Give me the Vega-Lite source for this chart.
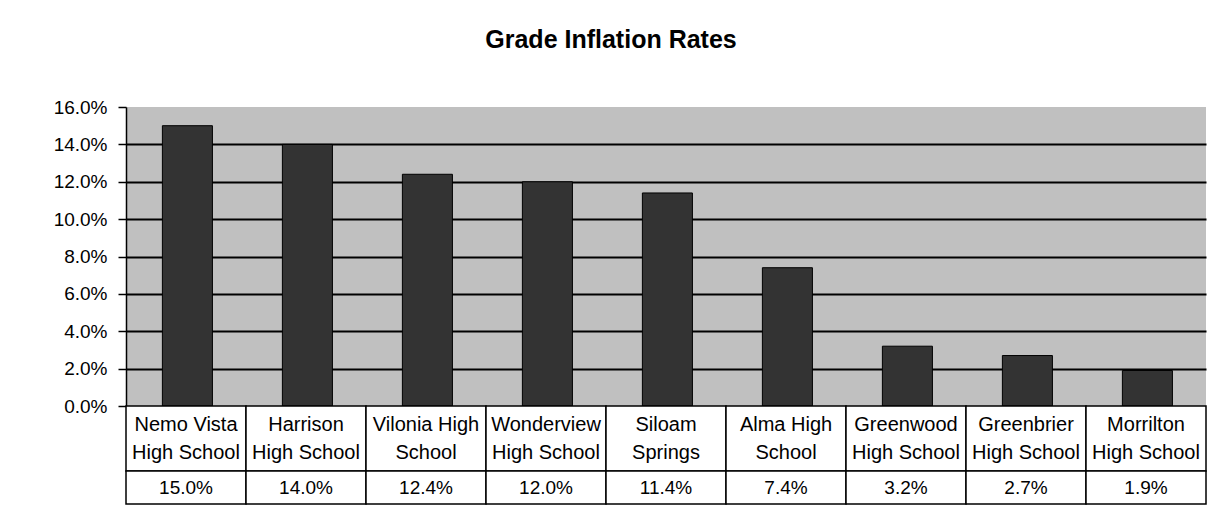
{
  "$schema": "https://vega.github.io/schema/vega-lite/v6.json",
  "background": "white",
  "padding": {"left": 53, "top": 28, "right": 5, "bottom": 5},
  "bounds": "flush",
  "config": {
    "font": "Liberation Sans",
    "concat": {"spacing": 0}
  },
  "data": {
    "values": [
      {"school": "Nemo Vista\nHigh School", "rate": 0.150},
      {"school": "Harrison\nHigh School", "rate": 0.140},
      {"school": "Vilonia High\nSchool", "rate": 0.124},
      {"school": "Wonderview\nHigh School", "rate": 0.120},
      {"school": "Siloam\nSprings", "rate": 0.114},
      {"school": "Alma High\nSchool", "rate": 0.074},
      {"school": "Greenwood\nHigh School", "rate": 0.032},
      {"school": "Greenbrier\nHigh School", "rate": 0.027},
      {"school": "Morrilton\nHigh School", "rate": 0.019}
    ]
  },
  "spacing": 0,
  "resolve": {"scale": {"x": "independent"}},
  "vconcat": [
    {
      "width": 1080,
      "height": 299,
      "title": {
        "text": "Grade Inflation Rates",
        "fontSize": 25,
        "fontWeight": "bold",
        "font": "Liberation Sans",
        "color": "black",
        "anchor": "middle",
        "dx": -55,
        "offset": 45
      },
      "view": {"fill": "#C0C0C0", "stroke": null},
      "mark": {"type": "bar", "color": "#333333", "stroke": "black", "strokeWidth": 1},
      "encoding": {
        "x": {
          "field": "school",
          "type": "nominal",
          "sort": null,
          "axis": null,
          "scale": {"paddingInner": 0.583, "paddingOuter": 0.2915, "align": 0.52}
        },
        "y": {
          "field": "rate",
          "type": "quantitative",
          "scale": {"domain": [0, 0.16], "nice": false},
          "axis": {
            "title": null,
            "values": [0, 0.02, 0.04, 0.06, 0.08, 0.1, 0.12, 0.14, 0.16],
            "format": ".1%",
            "labelFontSize": 19,
            "labelColor": "black",
            "labelPadding": 11,
            "tickSize": 8,
            "tickColor": "black",
            "tickWidth": 1.5,
            "domainColor": "black",
            "domainWidth": 1.5,
            "grid": true,
            "gridColor": {"condition": {"test": "datum.value >= 0.16 || datum.value <= 0", "value": "transparent"}, "value": "black"},
            "gridWidth": 1.8,
            "gridOpacity": 1
          }
        }
      }
    },
    {
      "width": 1080,
      "height": 65,
      "view": {"stroke": null},
      "encoding": {
        "x": {"field": "school", "type": "nominal", "sort": null, "axis": null, "scale": {"padding": 0}}
      },
      "layer": [
        {"mark": {"type": "rect", "fill": "white", "stroke": "black", "strokeWidth": 1.5}},
        {"mark": {"type": "text", "lineBreak": "\n", "fontSize": 20, "lineHeight": 28, "color": "black", "baseline": "middle", "dy": -14},
         "encoding": {"text": {"field": "school"}}}
      ]
    },
    {
      "width": 1080,
      "height": 33,
      "view": {"stroke": null},
      "encoding": {
        "x": {"field": "school", "type": "nominal", "sort": null, "axis": null, "scale": {"padding": 0}}
      },
      "layer": [
        {"mark": {"type": "rect", "fill": "white", "stroke": "black", "strokeWidth": 1.5}},
        {"mark": {"type": "text", "fontSize": 19, "color": "black", "baseline": "middle"},
         "encoding": {"text": {"field": "rate", "format": ".1%"}}}
      ]
    }
  ]
}
